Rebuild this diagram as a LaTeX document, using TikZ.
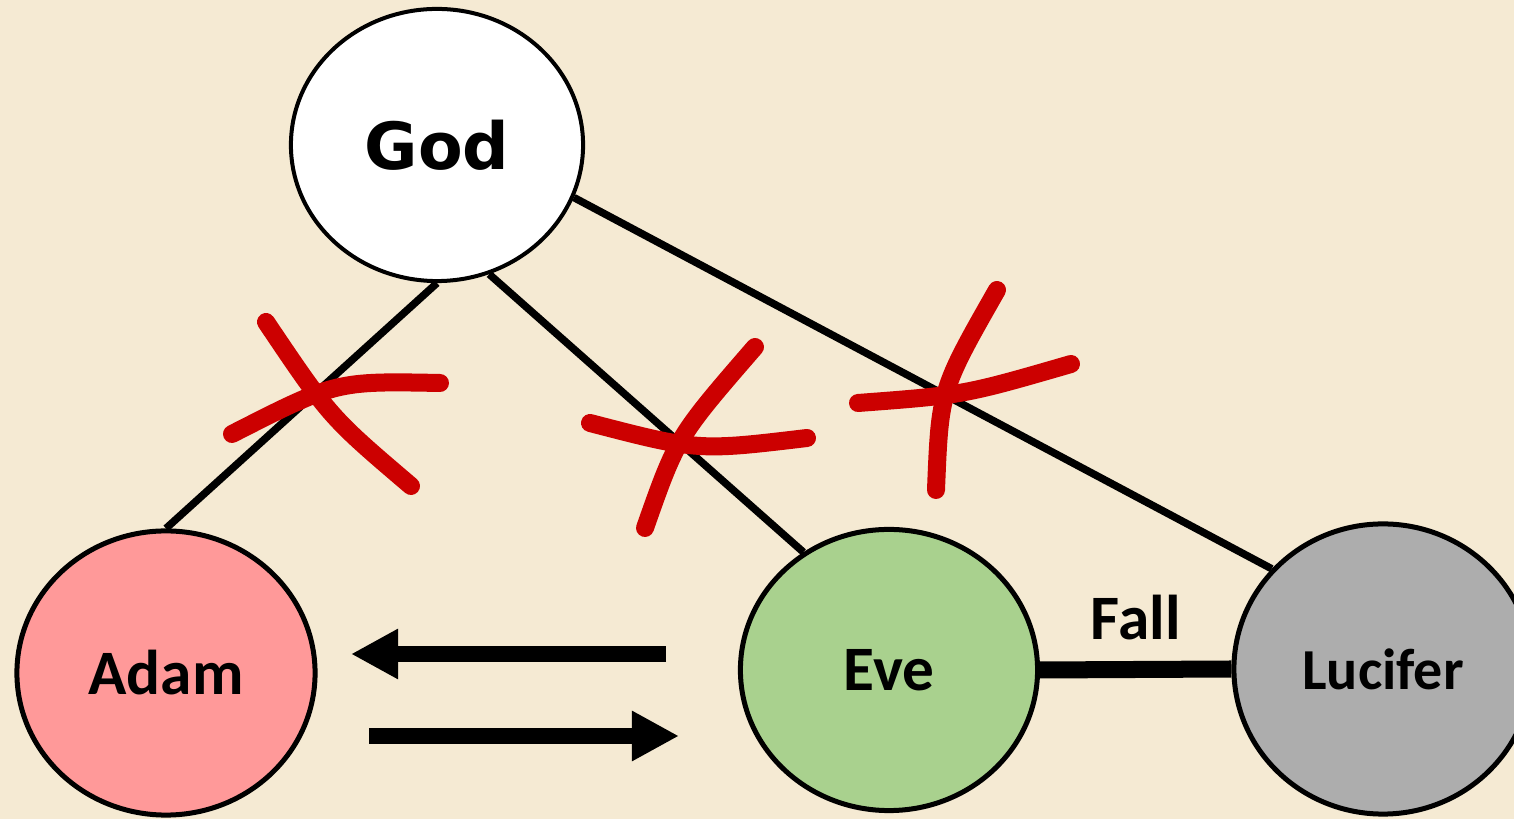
\documentclass[tikz,border=0pt]{standalone}
\usepackage{fontspec}
\usetikzlibrary{shapes.geometric,arrows.meta}
\newfontfamily\godfont{DejaVu Sans}
\newfontfamily\lblfont{Carlito}
\definecolor{bg}{RGB}{245,234,211}
\definecolor{adamc}{RGB}{255,153,153}
\definecolor{evec}{RGB}{169,209,142}
\definecolor{lucc}{RGB}{173,173,173}
\definecolor{brushred}{RGB}{204,0,0}
\tikzset{
  person/.style={ellipse, draw=black, line width=0.05cm, inner sep=0pt},
  link/.style={draw=black, line width=0.075cm},
  fallink/.style={draw=black, line width=0.17cm},
  bigarrow/.style={draw=black, line width=0.16cm, -{Triangle[length=0.47cm,width=0.47cm]}},
  redbrush/.style={draw=brushred, line width=0.18cm, line cap=round, line join=round},
  lbl/.style={font=\lblfont\bfseries\fontsize{18}{20}\selectfont}
}
\begin{document}
\begin{tikzpicture}[x=0.01cm,y=-0.01cm]
\fill[bg] (0,0) rectangle (1514,819);
\useasboundingbox (0,0) rectangle (1514,819);

\node[person, line width=0.04cm, fill=white, minimum width=2.92cm, minimum height=2.72cm,
  font=\godfont\bfseries\fontsize{18.5}{20}\selectfont] (god) at (437,145) {God};
\node[person, fill=adamc, minimum width=2.98cm, minimum height=2.84cm, lbl] (adam) at (166,673) {Adam};
\node[person, fill=evec, minimum width=2.97cm, minimum height=2.81cm, lbl] (eve) at (889,670) {Eve};
\node[person, fill=lucc, minimum width=2.98cm, minimum height=2.9cm,
  font=\lblfont\bfseries\fontsize{16.5}{18}\selectfont] (lucifer) at (1383,669) {Lucifer};

\draw[link] (god.south) -- (adam.north);
\draw[link] (god.-68) -- (eve.126);
\draw[link] (god.-21) -- (lucifer.138);
\draw[fallink] (eve.east) -- node[midway, above=0.21cm, inner sep=0pt, lbl] (fall) {Fall} (lucifer.west);

\coordinate (a1s) at (666,654);
\coordinate (a1e) at (351,654);
\coordinate (a2s) at (369,736);
\coordinate (a2e) at (679,736);
\draw[bigarrow] (a1s) -- (a1e);
\draw[bigarrow] (a2s) -- (a2e);

\draw[redbrush] (266,322) .. controls (330,417) .. (411,486);
\draw[redbrush] (232,434) .. controls (336,381) .. (440,383);
\draw[redbrush] (755,347) .. controls (677,437) .. (645,528);
\draw[redbrush] (590,423) .. controls (698,451) .. (807,438);
\draw[redbrush] (997,290) .. controls (940,390) .. (936,490);
\draw[redbrush] (858,403) .. controls (964,395) .. (1071,364);
\end{tikzpicture}
\end{document}
